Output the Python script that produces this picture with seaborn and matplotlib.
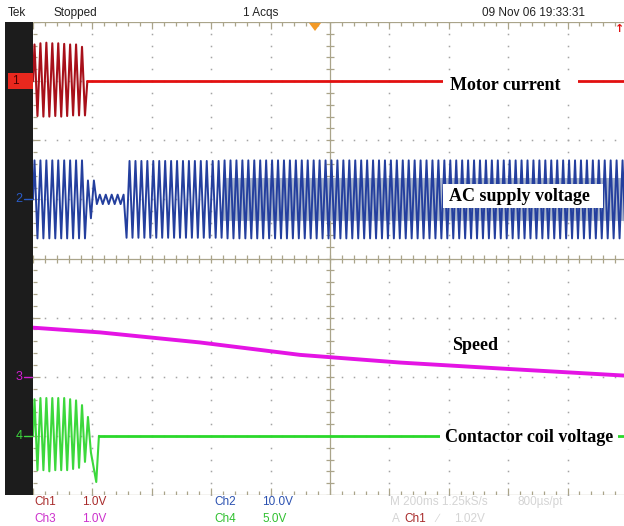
import numpy as np
import pandas as pd
import matplotlib
matplotlib.use("Agg")
import matplotlib.pyplot as plt
from matplotlib.patches import Rectangle, Polygon
from matplotlib.collections import LineCollection
import seaborn as sns

sns.set_style("white")
plt.rcParams["font.family"] = ["DejaVu Sans"]

# ---------------- scope settings ----------------
sec_per_div = 0.2            # M 200ms
line_freq = 50.0             # Hz mains
channels = ["Ch1", "Ch2", "Ch3", "Ch4"]
volts_per_div = [1.0, 10.0, 1.0, 5.0]
ground_div = [7.0, 5.0, 2.0, 1.0]          # marker positions on the screen (div)
trace_labels = ["Motor current", "AC supply voltage", "Speed", "Contactor coil voltage"]

# Ch1 motor current: burst peaks per mains cycle (V), then ~0
ch1_pos_peaks = [0.62, 0.64, 0.65, 0.64, 0.64, 0.63, 0.62, 0.62, 0.58]
ch1_neg_peaks = [-0.59, -0.60, -0.60, -0.59, -0.60, -0.59, -0.58, -0.58, -0.58]
ch1_off_time = 0.183

# Ch2 AC supply voltage: amplitude per segment (V)
ch2_seg_start = [0.0, 0.182, 0.209, 0.312, 0.64]
ch2_seg_end = [0.182, 0.209, 0.312, 0.64, 2.0]
ch2_seg_amp = [6.6, 3.2, 0.8, 6.5, 6.6]
ch2_band_start = 0.64
ch2_band_amp = 3.6

# Ch3 speed (V)
speed_t = [0.0, 0.226, 0.562, 0.899, 1.236, 1.572, 1.99]
speed_v = [0.83, 0.75, 0.58, 0.37, 0.24, 0.14, 0.02]

# Ch4 contactor coil voltage: burst peaks per cycle (V), final spike, then ~0
ch4_pos_peaks = [3.1, 3.2, 3.2, 3.2, 3.2, 3.2, 3.1, 3.0, 2.6, 1.6]
ch4_neg_peaks = [-2.9, -2.9, -3.0, -2.9, -2.9, -2.9, -2.8, -2.7, -2.2, -1.4]
ch4_spike_t, ch4_spike_v = 0.213, -3.9
ch4_off_time = 0.222

# ---------------- figure / screen ----------------
W, H = 624, 526
fig = plt.figure(figsize=(W / 100, H / 100), dpi=100)
fig.patch.set_facecolor("white")
TOP, BOT, LEFT = 22, 495, 33
px_per_div_y = (BOT - TOP) / 8
px_per_s = 10 * 59.4 / 2.0


def fx(x):
    return x / W


def fy(y):
    return 1 - y / H


ax = fig.add_axes([fx(LEFT), fy(BOT), (W - LEFT) / W, (BOT - TOP) / H])
xmax = (W - LEFT) / px_per_s
ax.set_xlim(0, xmax)
ax.set_ylim(0, 8)
ax.axis("off")


def dx(xpix):
    return (xpix - LEFT) / px_per_s


def dy(ypix):
    return (BOT - ypix) / px_per_div_y


# ---------------- graticule ----------------
gcol = "#a4a4a4"
ccol = "#aaa48a"
minor_x = sec_per_div / 5
minor_y = 0.2
tx = 4 / px_per_s
ty = 4 / px_per_div_y
xs_minor = np.arange(0, 2.0 + 1e-9, minor_x)
ys_minor = np.arange(0, 8 + 1e-9, minor_y)

for k in range(1, 10):
    if k == 5:
        continue
    xv = k * sec_per_div
    ax.plot(np.full_like(ys_minor, xv), ys_minor, ls="none", marker="s", ms=1.1,
            mew=0, color=gcol, zorder=1)
for k in range(1, 8):
    if k == 4:
        continue
    ax.plot(xs_minor, np.full_like(xs_minor, k), ls="none", marker="s", ms=1.1,
            mew=0, color=gcol, zorder=1)

segs = []
segs.append([(1.0, 0), (1.0, 8)])
segs.append([(0, 4), (2.0, 4)])
for xv in xs_minor:
    segs.append([(xv, 4 - ty), (xv, 4 + ty)])
for yv in ys_minor:
    segs.append([(1.0 - tx, yv), (1.0 + tx, yv)])
segs.append([(0, 8), (2.0, 8)])
segs.append([(0, 0), (2.0, 0)])
for i, xv in enumerate(xs_minor):
    L = ty * (1.8 if i % 5 == 0 else 1.0)
    segs.append([(xv, 8), (xv, 8 - L)])
    segs.append([(xv, 0), (xv, L)])
for i, yv in enumerate(ys_minor):
    L = tx * (1.8 if i % 5 == 0 else 1.0)
    segs.append([(0, yv), (L, yv)])
ax.add_collection(LineCollection(segs, colors=ccol, linewidths=0.9, zorder=1))

# ---------------- traces ----------------
period = 1.0 / line_freq


def burst(pos, neg):
    t, v = [], []
    for k, (p, n) in enumerate(zip(pos, neg)):
        t += [k * period + period / 4, k * period + 3 * period / 4]
        v += [p, n]
    return t, v


def to_screen(v, ch):
    return ground_div[ch] + np.asarray(v, dtype=float) / volts_per_div[ch]


def draw(t, v, ch, color, lw, z=3, alpha=1.0):
    df = pd.DataFrame({"t": t, "y": to_screen(v, ch)})
    sns.lineplot(data=df, x="t", y="y", ax=ax, color=color, linewidth=lw,
                 estimator=None, sort=False, zorder=z, legend=False, alpha=alpha)


# Ch1
t1, v1 = burst(ch1_pos_peaks, ch1_neg_peaks)
draw([0.0] + t1 + [ch1_off_time], [0.0] + v1 + [0.0], 0, "#a8101a", 1.5)
draw([ch1_off_time, 2.0], [0.0, 0.0], 0, "#e21010", 2.0)

# Ch2
n_half = int(2.0 / (period / 2))
t2, v2 = [0.0], [0.0]
for k in range(n_half):
    tk = period / 4 + k * period / 2
    amp = 0.0
    for s, e, a in zip(ch2_seg_start, ch2_seg_end, ch2_seg_amp):
        if s <= tk < e:
            amp = a
    t2.append(tk)
    v2.append(amp if k % 2 == 0 else -amp)
band_t = [ch2_band_start, 2.0]
ax.fill_between(band_t, to_screen([-ch2_band_amp] * 2, 1), to_screen([ch2_band_amp] * 2, 1),
                color="#aab6cc", lw=0, zorder=2)
draw(t2, v2, 1, "#243f9e", 1.4)

# Ch3
draw(speed_t, speed_v, 2, "#e414e4", 2.8)

# Ch4
t4, v4 = burst(ch4_pos_peaks, ch4_neg_peaks)
draw([0.0] + t4 + [ch4_spike_t, ch4_off_time], [0.0] + v4 + [ch4_spike_v, 0.0], 3, "#3cd83c", 1.5)
draw([ch4_off_time, 2.0], [0.0, 0.0], 3, "#2ad82a", 2.0)

# ---------------- label boxes and labels ----------------
boxes = [(443, 74, 578, 95), (443, 184, 603, 208), None, (440, 426, 618, 449)]
label_pos = [(450, 85, "left"), (449, 196, "left"), (452, 346, "left"), (445, 438, "left")]
for b, (lx, ly, ha), txt in zip(boxes, label_pos, trace_labels):
    if b is not None:
        x0, y0, x1, y1 = b
        ax.add_patch(Rectangle((dx(x0), dy(y1)), dx(x1) - dx(x0), dy(y0) - dy(y1),
                               facecolor="white", edgecolor="none", zorder=5))
    fig.text(fx(lx), fy(ly), txt, ha=ha, va="center", fontsize=13, fontweight="bold",
             family=["Liberation Serif", "DejaVu Serif"], color="black", zorder=10)

# ---------------- left black strip with channel markers ----------------
fig.patches.append(Rectangle((fx(5), fy(BOT)), 28 / W, (BOT - TOP) / H,
                             transform=fig.transFigure, facecolor="#1c1c1c",
                             edgecolor="none", zorder=1))
marker_cols = ["#e8281e", "#2a5cc8", "#d21ed2", "#3ed83e"]
for i, (g, c) in enumerate(zip(ground_div, marker_cols)):
    ypix = BOT - g * px_per_div_y
    if i == 0:
        fig.patches.append(Rectangle((fx(8), fy(ypix + 8)), 25 / W, 16 / H,
                                     transform=fig.transFigure, facecolor=c,
                                     edgecolor="none", zorder=2))
        fig.text(fx(15), fy(ypix), "1", color="#4a0000", fontsize=8.5, ha="center",
                 va="center", zorder=3, family=["Liberation Sans Narrow", "Liberation Sans"])
        fig.lines.append(plt.Line2D([fx(22), fx(32)], [fy(ypix), fy(ypix)],
                                    transform=fig.transFigure, color="#4a0000", lw=1.0))
    else:
        fig.text(fx(19), fy(ypix), str(i + 1), color=c, fontsize=9, ha="center",
                 va="center", zorder=3, family=["Liberation Sans Narrow", "Liberation Sans"])
        fig.lines.append(plt.Line2D([fx(24), fx(32)], [fy(ypix), fy(ypix)],
                                    transform=fig.transFigure, color=c, lw=1.0))

fig.patches.append(Polygon([(fx(309), fy(23)), (fx(321), fy(23)), (fx(315), fy(31))],
                           closed=True, transform=fig.transFigure, facecolor="#f39a26",
                           edgecolor="none", zorder=3))
fig.text(fx(620), fy(29), "\u2191", color="#e01010", fontsize=8, fontweight="bold",
         ha="center", va="center", zorder=3)

# ---------------- status text ----------------
sfam = ["Liberation Sans Narrow", "Liberation Sans"]
top_items = [(8, "Tek"), (54, "Stopped"), (243, "1 Acqs"), (482, "09 Nov 06 19:33:31")]
for x, s in top_items:
    fig.text(fx(x), fy(13), s, color="#222222", fontsize=8.5, ha="left", va="center",
             family=sfam)

bottom_items = [
    (34, 502, "Ch1", "#a82a2a"), (82, 502, "1.0V", "#a82a2a"),
    (214, 502, "Ch2", "#2a50b0"), (262, 502, "10.0V", "#2a50b0"),
    (390, 502, "M 200ms 1.25kS/s", "#d4d4d4"), (518, 502, "800\u00b5s/pt", "#d4d4d4"),
    (34, 519, "Ch3", "#cc30cc"), (82, 519, "1.0V", "#cc30cc"),
    (214, 519, "Ch4", "#30c030"), (262, 519, "5.0V", "#30c030"),
    (392, 519, "A", "#d4d4d4"), (404, 519, "Ch1", "#a82a2a"),
    (436, 519, "\u2215", "#d4d4d4"), (454, 519, "1.02V", "#d4d4d4"),
]
for x, y, s, c in bottom_items:
    fig.text(fx(x), fy(y), s, color=c, fontsize=8.5, ha="left", va="center", family=sfam)

fig.savefig("out.png", dpi=100, facecolor="white")
